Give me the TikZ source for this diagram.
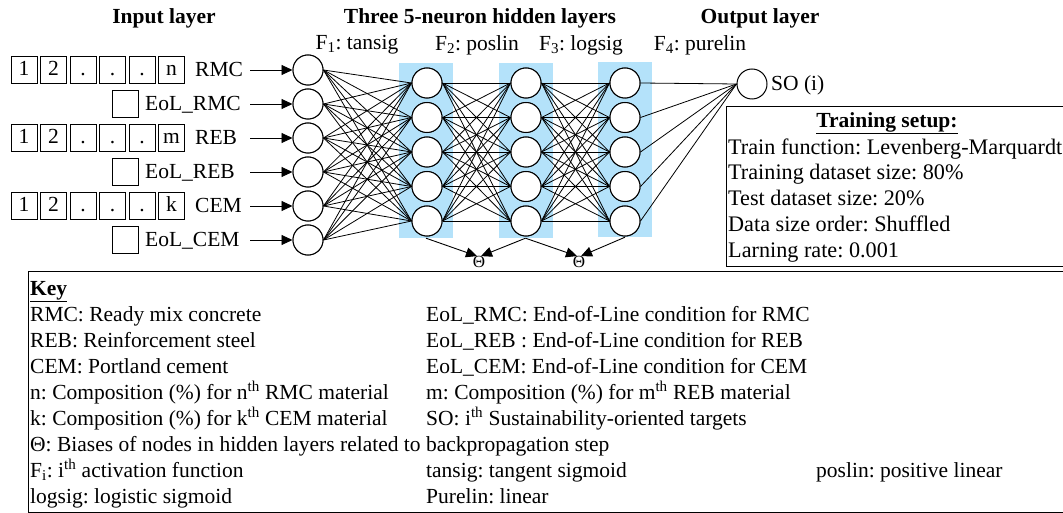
\documentclass[tikz,border=0pt]{standalone}
\usepackage{fontspec}
\setmainfont{Liberation Serif}
\usetikzlibrary{arrows.meta,calc}
\frenchspacing
\begin{document}
\begin{tikzpicture}[x=1pt,y=-1pt,
  every node/.style={font=\fontsize{21.5}{24}\selectfont},
  neuron/.style={circle,draw,fill=white,line width=1pt,minimum size=30pt,inner sep=0pt},
  layerbg/.style={rectangle,fill=hidblue,draw=none,minimum width=54pt,minimum height=175pt,inner sep=0pt},
  cellbox/.style={rectangle,draw,line width=0.8pt,minimum width=26pt,minimum height=27pt,inner sep=0pt,text height=14pt,text depth=3pt},
  conn/.style={line width=0.8pt},
  arr/.style={line width=0.9pt,-{Triangle[length=11pt,width=10pt]}},
  heading/.style={font=\fontsize{21.5}{24}\selectfont\bfseries},
  lbl/.style={anchor=west,inner sep=0pt,text height=15pt,text depth=5pt},
  tslbl/.style={lbl,font=\fontsize{22.2}{24}\selectfont},
  theta/.style={inner sep=0pt,font=\fontsize{17}{18}\selectfont}
]
\definecolor{hidblue}{RGB}{180,226,250}
\useasboundingbox (0,0) rectangle (1063,513);

% headings
\node[heading] (hin) at (164,18) {Input layer};
\node[heading] (hhid) at (480,18) {Three 5-neuron hidden layers};
\node[heading] (hout) at (760,18) {Output layer};
\node (f1) at (357,45) {F\textsubscript{1}: tansig};
\node (f2) at (477,45) {F\textsubscript{2}: poslin};
\node (f3) at (581,45) {F\textsubscript{3}: logsig};
\node (f4) at (700,45) {F\textsubscript{4}: purelin};

% hidden layer backgrounds
\node[layerbg] (bg1) at (426,150.5) {};
\node[layerbg] (bg2) at (525.5,150.5) {};
\node[layerbg] (bg3) at (625,149.5) {};

% input neurons
\foreach \i/\y in {1/70,2/104,3/138,4/172,5/206,6/240}
  \node[neuron] (in\i) at (308,\y) {};
% hidden neurons
\foreach \j/\y in {1/83,2/117.5,3/152,4/186.5,5/221}{
  \node[neuron] (a\j) at (427,\y) {};
  \node[neuron] (b\j) at (526,\y) {};
  \node[neuron] (c\j) at (625,\y) {};
}
\node[neuron] (out) at (752,84) {};
\node[lbl] (solbl) at (771,86) {SO (i)};

% connections
\foreach \i in {1,...,6}
  \foreach \j in {1,...,5}
    \draw[conn] (in\i.east) -- (a\j.west);
\foreach \i in {1,...,5}
  \foreach \j in {1,...,5}{
    \draw[conn] (a\i.east) -- (b\j.west);
    \draw[conn] (b\i.east) -- (c\j.west);
  }
\foreach \i in {1,...,5}
  \draw[conn] (c\i.east) -- (out.west);

% redraw neurons on top
\foreach \i in {1,...,6}
  \node[neuron] at (in\i) {};
\foreach \j in {1,...,5}{
  \node[neuron] at (a\j) {};
  \node[neuron] at (b\j) {};
  \node[neuron] at (c\j) {};
}

% input arrows
\foreach \i/\y in {1/70,2/104,3/138,4/172,5/206,6/240}{
  \coordinate (s\i) at (250,\y);
  \draw[arr] (s\i) -- (in\i.west);
}

% input cell rows
\foreach \r/\y/\last/\name in {1/70/n/RMC,3/138/m/REB,5/206/k/CEM}{
  \foreach \k/\t in {0/1,1/2,2/.,3/.,4/.,5/\last}
    \node[cellbox] (cell\r-\k) at (24+\k*29.5,\y) {\t};
  \node[lbl] (lab\r) at (195,\y+2) {\name};
}
\foreach \r/\y/\name in {2/104/RMC,4/172/REB,6/240/CEM}{
  \node[cellbox] (cell\r) at (125,\y) {};
  \node[lbl] (lab\r) at (145,\y+2) {EoL\_\name};
}

% bias arrows
\node[theta] (t1) at (479,262) {Θ};
\node[theta] (t2) at (579,262) {Θ};
\draw[arr] (bg1.south) -- ([xshift=-2pt]t1.north);
\draw[arr] (bg2.south) -- ([xshift=2pt]t1.north);
\draw[arr] (bg2.south) -- ([xshift=-2pt]t2.north);
\draw[arr] (bg3.south) -- ([xshift=2pt]t2.north);

% training setup box
\draw[line width=1pt] (726,107) rectangle (1070,266);
\node[heading] (tshead) at (887,123) {\underline{Training setup:}};
\node[tslbl] (ts1) at (728,150) {Train function: Levenberg-Marquardt};
\node[tslbl] (ts2) at (728,175) {Training dataset size: 80\%};
\node[tslbl] (ts3) at (728,201) {Test dataset size: 20\%};
\node[tslbl] (ts4) at (728,227) {Data size order: Shuffled};
\node[tslbl] (ts5) at (728,253) {Larning rate: 0.001};

% key box
\draw[line width=1pt] (28,271) rectangle (1070,512);
\node[heading,lbl] (key) at (30,290) {\underline{Key}};
\node[lbl] (k1) at (30,316) {RMC: Ready mix concrete};
\node[lbl] (k2) at (30,342) {REB: Reinforcement steel};
\node[lbl] (k3) at (30,368) {CEM: Portland cement};
\node[lbl] (k4) at (30,394) {n: Composition (\%) for n\textsuperscript{th} RMC material};
\node[lbl] (k5) at (30,420) {k: Composition (\%) for k\textsuperscript{th} CEM material};
\node[lbl] (k6) at (30,446) {Θ: Biases of nodes in hidden layers related to backpropagation step};
\node[lbl] (k7) at (30,472) {F\textsubscript{i}: i\textsuperscript{th} activation function};
\node[lbl] (k8) at (30,498) {logsig: logistic sigmoid};
\node[lbl] (k9) at (426,316) {EoL\_RMC: End-of-Line condition for RMC};
\node[lbl] (k10) at (426,342) {EoL\_REB : End-of-Line condition for REB};
\node[lbl] (k11) at (426,368) {EoL\_CEM: End-of-Line condition for CEM};
\node[lbl] (k12) at (426,394) {m: Composition (\%) for m\textsuperscript{th} REB material};
\node[lbl] (k13) at (426,420) {SO: i\textsuperscript{th} Sustainability-oriented targets};
\node[lbl] (k14) at (426,472) {tansig: tangent sigmoid};
\node[lbl] (k15) at (426,498) {Purelin: linear};
\node[lbl] (k16) at (816,472) {poslin: positive linear};
\end{tikzpicture}
\end{document}
